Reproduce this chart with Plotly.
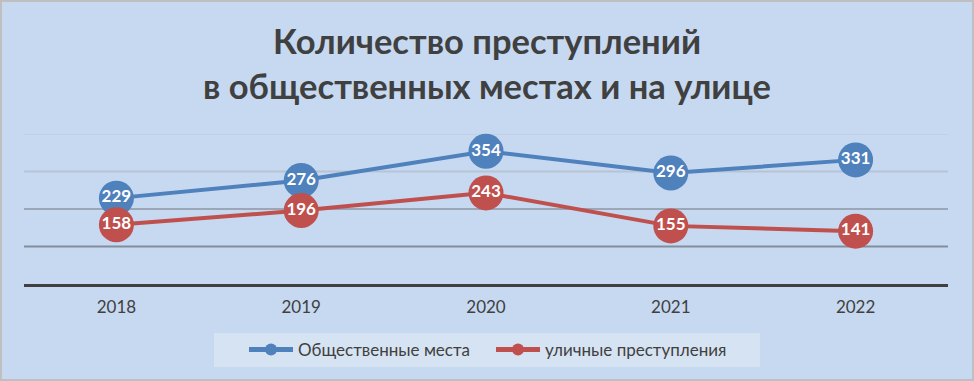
import plotly.graph_objects as go

years = ["2018", "2019", "2020", "2021", "2022"]
public_places = [229, 276, 354, 296, 331]
street_crimes = [158, 196, 243, 155, 141]
series_names = ["Общественные места", "уличные преступления"]
title_text = "Количество преступлений<br>в общественных местах и на улице"
grid_values = [100, 200, 300, 400]
grid_colors = ["#838e9c", "#9ba6b6", "#b7c3d3", "#c4d0e1"]

W, H = 974, 381
ML, MR, MT, MB = 24, 26, 134, 97
pw, ph = W - ML - MR, H - MT - MB

fig = go.Figure()
for vals, name, col in [(public_places, series_names[0], "#4f81bd"),
                        (street_crimes, series_names[1], "#c0504d")]:
    fig.add_trace(go.Scatter(
        x=years, y=vals, name=name, mode="lines+markers+text",
        line=dict(color=col, width=4),
        marker=dict(size=35, color=col),
        text=[str(v) for v in vals], textposition="middle center",
        textfont=dict(family="Lato", size=17, color="white", weight="bold"),
        cliponaxis=False,
    ))

def px_x(p):
    return (p - ML) / pw

def px_y(p):
    return (H - MB - p) / ph

shapes = [dict(type="line", xref="paper", yref="y", x0=0, x1=1, y0=g, y1=g,
               line=dict(color=c, width=2), layer="below")
          for g, c in zip(grid_values, grid_colors)]
# legend background box
shapes.append(dict(type="rect", xref="paper", yref="paper",
                   x0=px_x(214), x1=px_x(760), y0=px_y(367), y1=px_y(333),
                   fillcolor="#d6e3f3", line=dict(width=0), layer="below"))
# outer frame
shapes.append(dict(type="rect", xref="paper", yref="paper",
                   x0=px_x(1), x1=px_x(W - 1), y0=px_y(H - 1), y1=px_y(1),
                   line=dict(color="#bfbfbf", width=2), layer="above"))

fig.update_layout(
    width=W, height=H,
    margin=dict(l=ML, r=MR, t=MT, b=MB),
    paper_bgcolor="#c6d9f1", plot_bgcolor="#c6d9f1",
    title=dict(text=title_text, x=0.5, xanchor="center", y=1 - 54 / H, yanchor="middle",
               font=dict(family="Lato", size=34.5, color="#404040", weight="bold")),
    xaxis=dict(range=[-0.5, 4.5], showgrid=False, showline=True, linecolor="#404040",
               linewidth=3, ticks="", ticklabelstandoff=6,
               tickfont=dict(family="Lato", size=17, color="#404040"),
               fixedrange=True),
    yaxis=dict(range=[0, 400], showticklabels=False, showgrid=False,
               zeroline=False, ticks="", fixedrange=True),
    showlegend=True,
    legend=dict(orientation="h", x=0.5 + 5 / pw, xanchor="center", y=px_y(350), yanchor="middle",
                bgcolor="rgba(0,0,0,0)", font=dict(family="Lato", size=17, color="#404040"),
                itemsizing="constant", itemwidth=44, tracegroupgap=0,
                entrywidth=188, entrywidthmode="pixels"),
    shapes=shapes,
)

fig.write_html("out.html", config={"displayModeBar": False},
               post_script="document.body.style.margin='0';")
